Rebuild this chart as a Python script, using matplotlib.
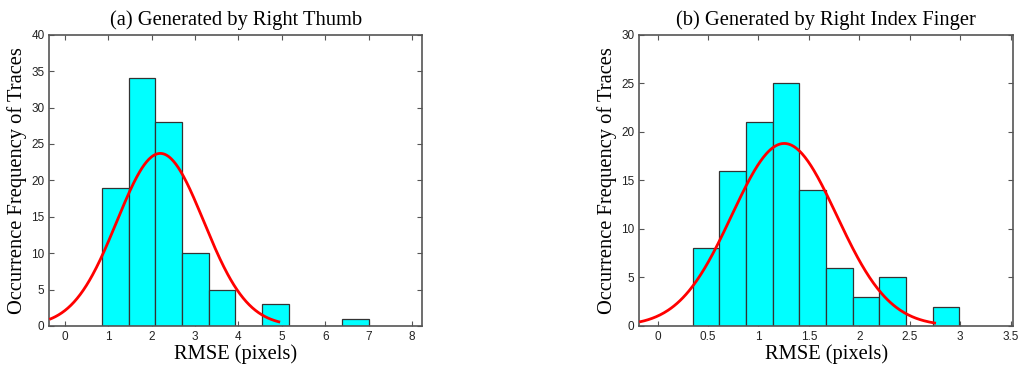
import numpy as np
import matplotlib
matplotlib.use("Agg")
import matplotlib.pyplot as plt

# ---- data ----
titles = ["(a) Generated by Right Thumb", "(b) Generated by Right Index Finger"]
xlabel = "RMSE (pixels)"
ylabel = "Occurrence Frequency of Traces"

thumb_edges_lo = 0.86
thumb_edges_hi = 7.0
thumb_counts = [19, 34, 28, 10, 5, 0, 3, 0, 0, 1]
thumb_fit_mu, thumb_fit_sigma, thumb_fit_peak, thumb_fit_end = 2.2, 1.0, 23.7, 4.96
thumb_xlim = (-0.355, 8.23)
thumb_ylim = (0, 40)
thumb_xticks = [0, 1, 2, 3, 4, 5, 6, 7, 8]
thumb_yticks = [0, 5, 10, 15, 20, 25, 30, 35, 40]

index_edges_lo = 0.347
index_edges_hi = 2.99
index_counts = [8, 16, 21, 25, 14, 6, 3, 5, 0, 2]
index_fit_mu, index_fit_sigma, index_fit_peak, index_fit_end = 1.255, 0.52, 18.8, 2.76
index_xlim = (-0.182, 3.526)
index_ylim = (0, 30)
index_xticks = [0, 0.5, 1, 1.5, 2, 2.5, 3, 3.5]
index_xticklabels = ["0", "0.5", "1", "1.5", "2", "2.5", "3", "3.5"]
index_yticks = [0, 5, 10, 15, 20, 25, 30]

fig = plt.figure(figsize=(10.24, 3.72), dpi=100)
axes_rects = [[0.0482, 0.1237, 0.364, 0.783], [0.6243, 0.1237, 0.3652, 0.783]]

panels = [
    (thumb_edges_lo, thumb_edges_hi, thumb_counts, thumb_fit_mu, thumb_fit_sigma,
     thumb_fit_peak, thumb_fit_end, thumb_xlim, thumb_ylim, thumb_xticks,
     [str(t) for t in thumb_xticks], thumb_yticks),
    (index_edges_lo, index_edges_hi, index_counts, index_fit_mu, index_fit_sigma,
     index_fit_peak, index_fit_end, index_xlim, index_ylim, index_xticks,
     index_xticklabels, index_yticks),
]

serif = ["Liberation Serif", "DejaVu Serif"]
sans = ["Liberation Sans", "DejaVu Sans"]

for i, (lo, hi, counts, mu, sig, peak, xend, xlim, ylim, xt, xtl, yt) in enumerate(panels):
    ax = fig.add_axes(axes_rects[i])
    edges = np.linspace(lo, hi, len(counts) + 1)
    ax.bar(edges[:-1], counts, width=np.diff(edges), align="edge",
           color="#00FFFF", edgecolor="#333333", linewidth=0.9, zorder=2)
    xs = np.linspace(xlim[0], xend, 300)
    ax.plot(xs, peak * np.exp(-(xs - mu) ** 2 / (2 * sig ** 2)),
            color="#FF0000", linewidth=2.0, zorder=3, solid_capstyle="butt")
    ax.set_xlim(*xlim)
    ax.set_ylim(*ylim)
    ax.set_xticks(xt)
    ax.set_xticklabels(xtl)
    ax.set_yticks(yt)
    ax.tick_params(direction="in", length=3.5, width=0.8, color="#555555",
                   top=True, right=True, labelsize=8.5, labelcolor="#222222", pad=3.5)
    for lab in ax.get_xticklabels() + ax.get_yticklabels():
        lab.set_fontfamily(sans)
    for s in ax.spines.values():
        s.set_color("#555555")
        s.set_linewidth(1.2)
    ax.set_title(titles[i], fontsize=14.8, fontfamily=serif, pad=7)
    ax.set_xlabel(xlabel, fontsize=14.8, fontfamily=serif, labelpad=1)
    ax.set_ylabel(ylabel, fontsize=14.8, fontfamily=serif, labelpad=3)

fig.savefig("out.png", dpi=100)
